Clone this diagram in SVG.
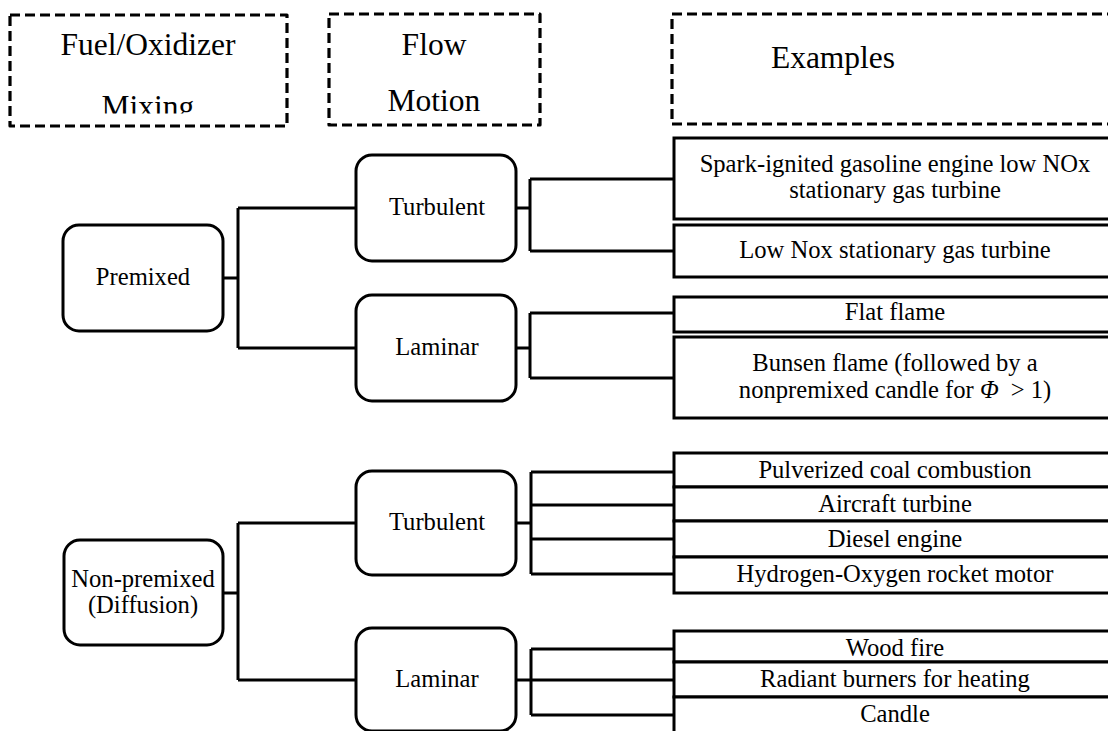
<svg xmlns="http://www.w3.org/2000/svg" width="1108" height="731" viewBox="0 0 1108 731">
<style>
.hdr{fill:none;stroke:#000;stroke-width:3.2;stroke-dasharray:10 5;stroke-linejoin:round}
.rnd{fill:#fff;stroke:#000;stroke-width:3}
.ex{fill:#fff;stroke:#000;stroke-width:3}
.conn{fill:none;stroke:#000;stroke-width:3;stroke-linejoin:miter}
.ht{font-size:31.5px}
.nt{font-size:24.6px}
</style>
<defs>
<clipPath id="clipMix"><rect x="0" y="0" width="300" height="113.5"/></clipPath>
</defs>
<rect width="1108" height="731" fill="#fff"/>
<g font-family="'Liberation Serif', 'Times New Roman', 'DejaVu Serif', serif" text-anchor="middle" fill="#000">

<g id="hdr-mixing">
<rect class="hdr" x="10" y="15" width="277" height="111"/>
<text class="ht" x="148" y="55">Fuel/Oxidizer</text>
<text class="ht" x="148" y="117" clip-path="url(#clipMix)">Mixing</text>
</g>
<g id="hdr-flow">
<rect class="hdr" x="329" y="14" width="211" height="111"/>
<text class="ht" x="434" y="55">Flow</text>
<text class="ht" x="434" y="111">Motion</text>
</g>
<g id="hdr-examples">
<rect class="hdr" x="672" y="14" width="460" height="110"/>
<text class="ht" x="833" y="68">Examples</text>
</g>

<g id="connectors">
<path class="conn" d="M223 278H238M238 208V348M238 208H356M238 348H356"/>
<path class="conn" d="M516 208H530M530 179V251M530 179H674M530 251H674"/>
<path class="conn" d="M516 348H530M530 313V378M530 313H674M530 378H674"/>
<path class="conn" d="M223 593H238M238 523V680M238 523H356M238 680H356"/>
<path class="conn" d="M516 523H531M531 472V574M531 472H674M531 505H674M531 539H674M531 574H674"/>
<path class="conn" d="M516 680H531M531 649V715M531 649H674M531 680H674M531 715H674"/>
</g>

<g id="n-premixed">
<rect class="rnd" x="63" y="225" width="160" height="106" rx="16"/>
<text class="nt" x="143" y="285">Premixed</text>
</g>
<g id="n-turb1">
<rect class="rnd" x="356" y="155" width="160" height="106" rx="16"/>
<text class="nt" x="437" y="215">Turbulent</text>
</g>
<g id="n-lam1">
<rect class="rnd" x="356" y="295" width="160" height="106" rx="16"/>
<text class="nt" x="437" y="355">Laminar</text>
</g>
<g id="n-nonpremixed">
<rect class="rnd" x="64" y="540" width="159" height="105" rx="16"/>
<text class="nt" x="143" y="587">Non-premixed</text>
<text class="nt" x="143" y="613">(Diffusion)</text>
</g>
<g id="n-turb2">
<rect class="rnd" x="356" y="471" width="160" height="104" rx="16"/>
<text class="nt" x="437" y="530">Turbulent</text>
</g>
<g id="n-lam2">
<rect class="rnd" x="356" y="628" width="160" height="103" rx="16"/>
<text class="nt" x="437" y="687">Laminar</text>
</g>

<g id="ex-spark">
<rect class="ex" x="674" y="138" width="460" height="81"/>
<text class="nt" x="895" y="172">Spark-ignited gasoline engine low NOx</text>
<text class="nt" x="895" y="198">stationary gas turbine</text>
</g>
<g id="ex-lownox">
<rect class="ex" x="674" y="225" width="460" height="52"/>
<text class="nt" x="895" y="258">Low Nox stationary gas turbine</text>
</g>
<g id="ex-flat">
<rect class="ex" x="674" y="297" width="460" height="35"/>
<text class="nt" x="895" y="320">Flat flame</text>
</g>
<g id="ex-bunsen">
<rect class="ex" x="674" y="337" width="460" height="81"/>
<text class="nt" x="895" y="371">Bunsen flame (followed by a</text>
<text class="nt" x="895" y="398">nonpremixed candle for <tspan font-style="italic">Φ</tspan><tspan dx="12">&gt; 1)</tspan></text>
</g>
<g id="ex-coal">
<rect class="ex" x="674" y="453" width="460" height="34"/>
<text class="nt" x="895" y="478">Pulverized coal combustion</text>
</g>
<g id="ex-aircraft">
<rect class="ex" x="674" y="487" width="460" height="34"/>
<text class="nt" x="895" y="512">Aircraft turbine</text>
</g>
<g id="ex-diesel">
<rect class="ex" x="674" y="521" width="460" height="36"/>
<text class="nt" x="895" y="547">Diesel engine</text>
</g>
<g id="ex-rocket">
<rect class="ex" x="674" y="557" width="460" height="36"/>
<text class="nt" x="895" y="582">Hydrogen-Oxygen rocket motor</text>
</g>
<g id="ex-wood">
<rect class="ex" x="674" y="631" width="460" height="31"/>
<text class="nt" x="895" y="656">Wood fire</text>
</g>
<g id="ex-radiant">
<rect class="ex" x="674" y="662" width="460" height="35"/>
<text class="nt" x="895" y="687">Radiant burners for heating</text>
</g>
<g id="ex-candle">
<rect class="ex" x="674" y="697" width="460" height="50"/>
<text class="nt" x="895" y="722">Candle</text>
</g>
</g>
</svg>
